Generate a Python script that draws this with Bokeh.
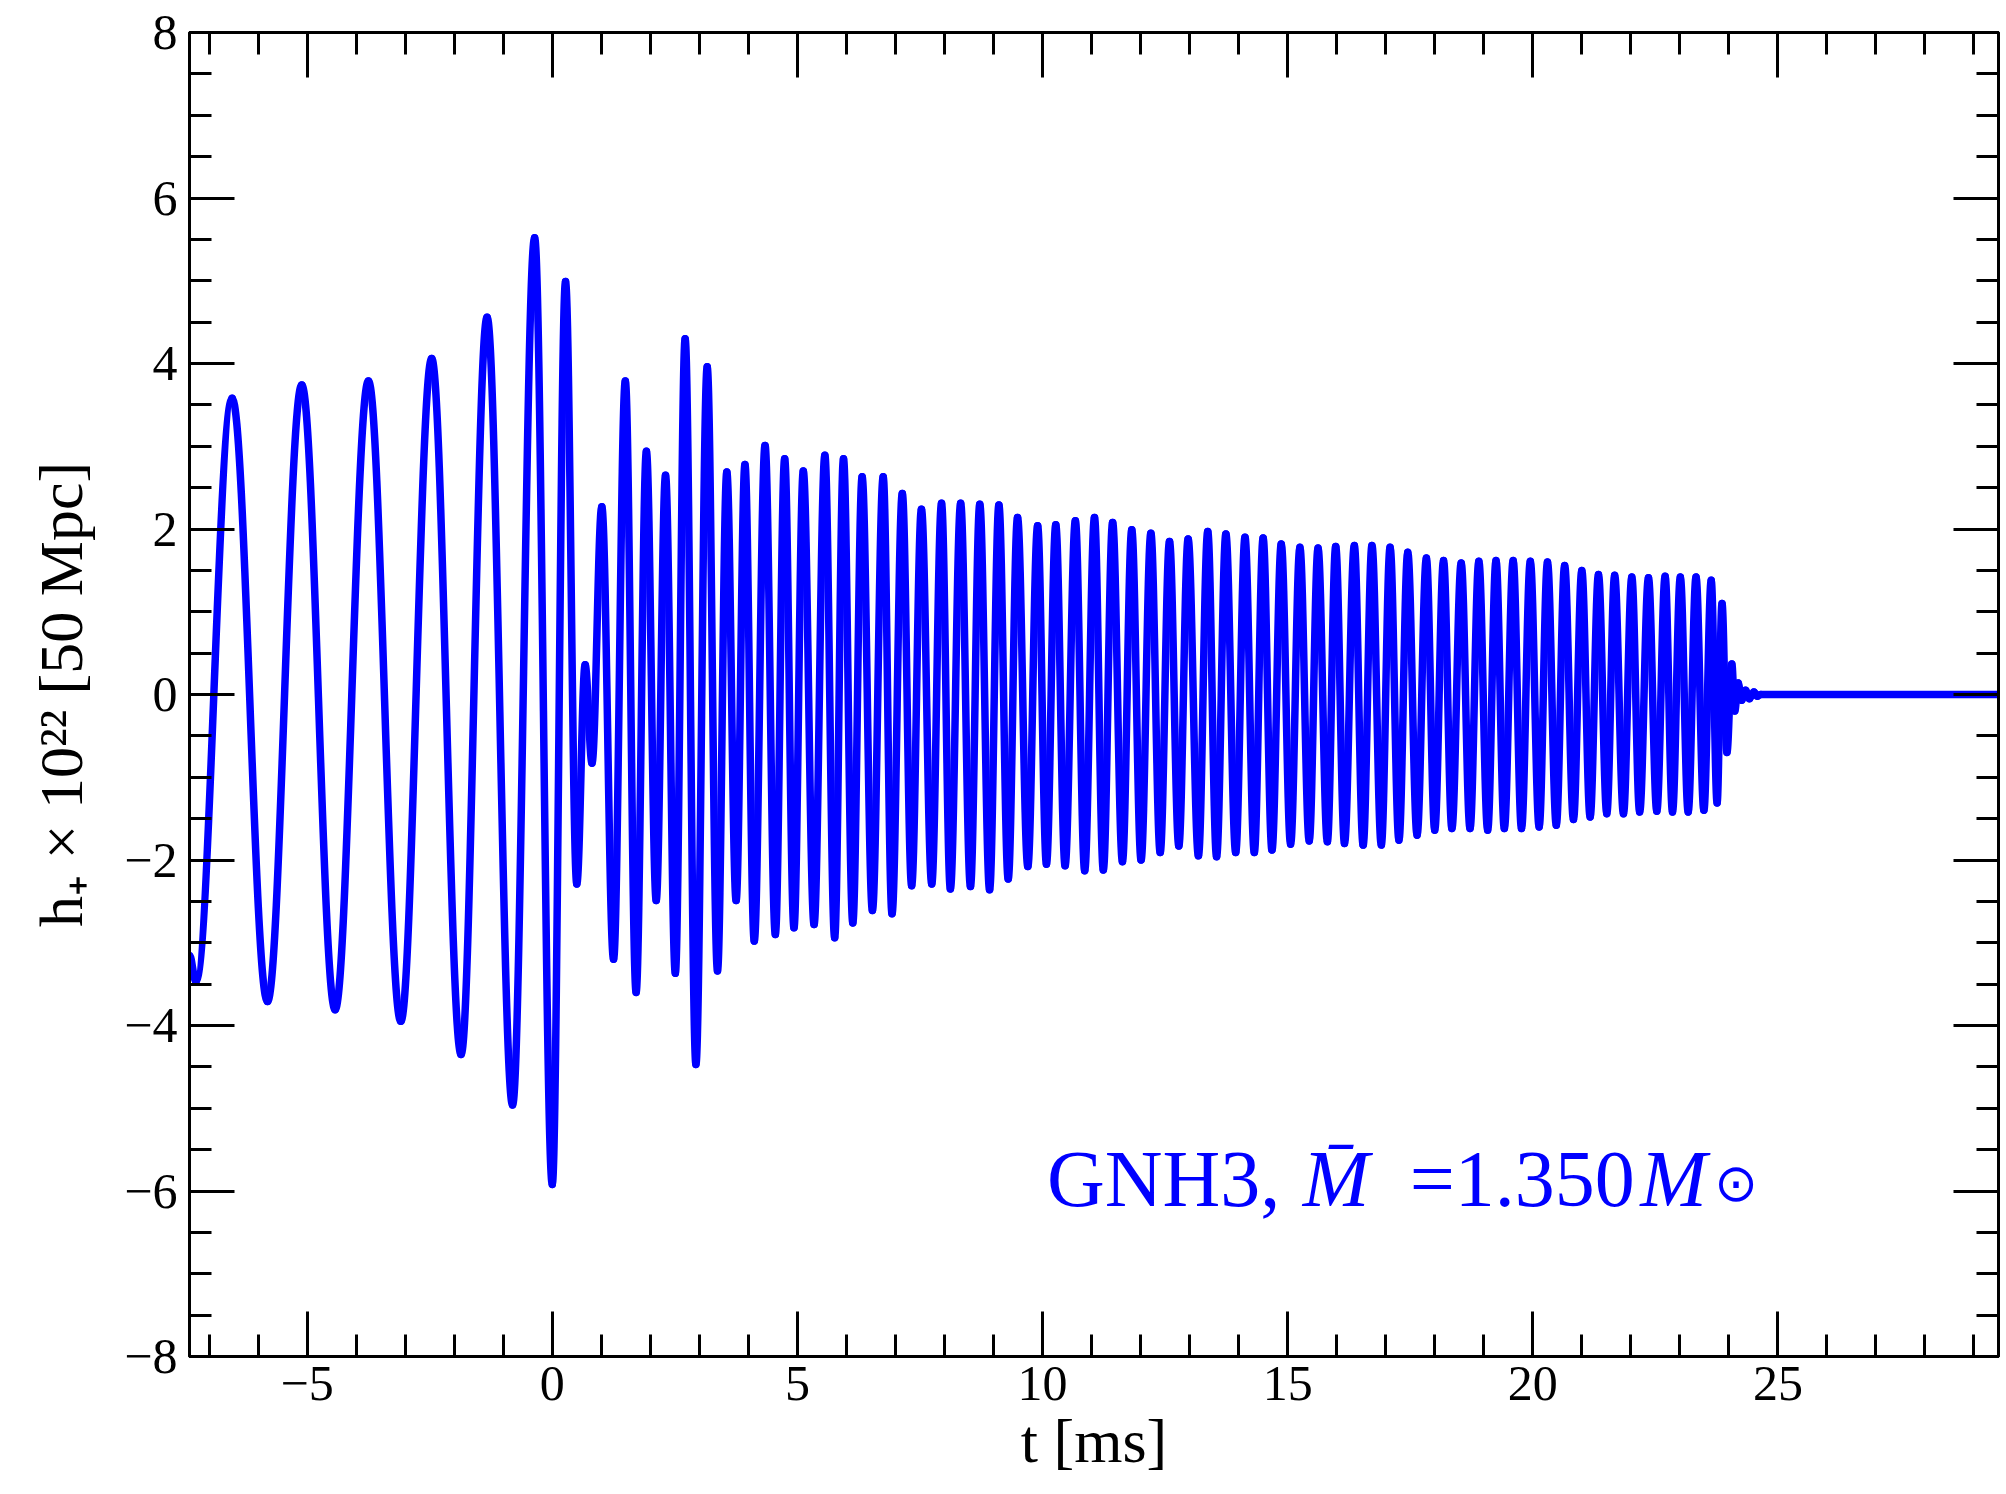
import numpy as np
from bokeh.plotting import figure
from bokeh.models import (Range1d, LinearAxis, SingleIntervalTicker, Label,
                          CustomLabelingPolicy)
from bokeh.embed import file_html
from bokeh.resources import INLINE

# Extrema (peaks / troughs) of h_+ x 1e22, t in ms
t_ext = [-7.40, -7.27, -6.53, -5.81, -5.11, -4.43, -3.75, -3.09, -2.46, -1.86,
         -1.33, -0.81, -0.36, 0.00, 0.27, 0.50, 0.67, 0.81, 1.01, 1.25,
         1.49, 1.71, 1.92, 2.12, 2.31, 2.51, 2.71, 2.93, 3.16, 3.37,
         3.56, 3.75, 3.93, 4.12, 4.34, 4.55, 4.74, 4.93, 5.12, 5.34,
         5.56, 5.76, 5.94, 6.13, 6.32, 6.53, 6.75, 6.93, 7.14, 7.33,
         7.53, 7.74, 7.94, 8.12, 8.33, 8.53, 8.72, 8.92, 9.11, 9.30,
         9.49, 9.70, 9.90, 10.08, 10.27, 10.46, 10.67, 10.86, 11.06, 11.24,
         11.43, 11.63, 11.82, 12.01, 12.21, 12.40, 12.59, 12.78, 12.97, 13.18,
         13.37, 13.55, 13.74, 13.94, 14.13, 14.32, 14.50, 14.68, 14.87, 15.06,
         15.25, 15.44, 15.62, 15.81, 15.98, 16.16, 16.36, 16.54, 16.72, 16.91,
         17.09, 17.27, 17.45, 17.64, 17.83, 18.00, 18.18, 18.35, 18.54, 18.72,
         18.90, 19.08, 19.25, 19.42, 19.60, 19.77, 19.95, 20.13, 20.30, 20.48,
         20.65, 20.83, 21.00, 21.17, 21.34, 21.51, 21.67, 21.85, 22.02, 22.18,
         22.36, 22.53, 22.70, 22.85, 23.01, 23.17, 23.33, 23.49, 23.64, 23.76,
         23.86, 23.96, 24.06, 24.12, 24.19, 24.26, 24.34, 24.42, 24.51, 24.58,
         24.65, 29.60]
h_ext = [-3.15, -3.47, 3.58, -3.71, 3.74, -3.81, 3.79, -3.95, 4.06, -4.35,
         4.56, -4.96, 5.52, -5.92, 4.99, -2.29, 0.36, -0.83, 2.27, -3.20,
         3.79, -3.60, 2.94, -2.49, 2.65, -3.37, 4.30, -4.47, 3.96, -3.34,
         2.69, -2.49, 2.78, -2.98, 3.01, -2.90, 2.85, -2.82, 2.70, -2.78,
         2.89, -2.94, 2.85, -2.76, 2.63, -2.61, 2.63, -2.65, 2.43, -2.31,
         2.24, -2.29, 2.31, -2.35, 2.31, -2.32, 2.30, -2.36, 2.29, -2.23,
         2.14, -2.08, 2.04, -2.05, 2.05, -2.07, 2.10, -2.13, 2.14, -2.12,
         2.08, -2.02, 1.99, -2.00, 1.95, -1.91, 1.85, -1.83, 1.88, -1.95,
         1.97, -1.96, 1.94, -1.91, 1.90, -1.91, 1.89, -1.88, 1.82, -1.81,
         1.78, -1.77, 1.77, -1.78, 1.79, -1.80, 1.80, -1.82, 1.80, -1.82,
         1.78, -1.76, 1.72, -1.70, 1.65, -1.64, 1.62, -1.62, 1.59, -1.62,
         1.61, -1.64, 1.62, -1.62, 1.62, -1.62, 1.61, -1.60, 1.60, -1.58,
         1.56, -1.51, 1.50, -1.48, 1.45, -1.44, 1.44, -1.44, 1.42, -1.42,
         1.41, -1.41, 1.43, -1.42, 1.42, -1.42, 1.42, -1.40, 1.38, -1.31,
         1.10, -0.70, 0.37, -0.20, 0.14, -0.07, 0.05, -0.05, 0.03, -0.02,
         0.00, 0.00]

x_ticks = [-5, 0, 5, 10, 15, 20, 25]
x_tick_labels = ["\u22125", "0", "5", "10", "15", "20", "25"]
y_ticks = [-8, -6, -4, -2, 0, 2, 4, 6, 8]
y_tick_labels = ["\u22128", "\u22126", "\u22124", "\u22122", "0", "2", "4", "6", "8"]

BLUE = "#0000ff"
SERIF = "Liberation Serif"

p = figure(width=2002, height=1486, output_backend="svg", toolbar_location=None,
           x_range=Range1d(-7.4, 29.5), y_range=Range1d(-8, 8),
           min_border_left=189, min_border_top=32, min_border_right=2,
           min_border_bottom=130)
p.grid.visible = False
p.outline_line_color = "black"
p.outline_line_width = 3
p.background_fill_color = "white"
p.border_fill_color = "white"

# waveform: smooth cubic segments between successive extrema (horizontal tangents)
t = np.array(t_ext)
h = np.array(h_ext)
k = 0.364
dt = t[1:] - t[:-1]
p.bezier(x0=t[:-1], y0=h[:-1], x1=t[1:], y1=h[1:],
         cx0=t[:-1] + k * dt, cy0=h[:-1], cx1=t[1:] - k * dt, cy1=h[1:],
         line_color=BLUE, line_width=7.5, line_cap="round")

hide_labels = CustomLabelingPolicy(code="""
const ids = Array.from(indices);
for (const i of ids) {
  if (typeof indices.unset === "function") { indices.unset(i); } else { indices.set(i, false); }
}
return indices;
""")


def style_axis(ax, interval, minor, labels, show, standoff=10):
    ax.ticker = SingleIntervalTicker(interval=interval, num_minor_ticks=minor)
    ax.axis_line_width = 3
    ax.axis_line_color = "black"
    ax.major_tick_in = 45
    ax.major_tick_out = 0
    ax.minor_tick_in = 22
    ax.minor_tick_out = 0
    ax.major_tick_line_width = 3
    ax.minor_tick_line_width = 3
    ax.major_tick_line_color = "black"
    ax.minor_tick_line_color = "black"
    if show:
        ax.major_label_text_font = SERIF
        ax.major_label_text_font_size = "50px"
        ax.major_label_text_color = "black"
        ax.major_label_standoff = standoff
        ax.major_label_overrides = labels
    else:
        ax.major_label_text_font_size = "1px"
        ax.major_label_standoff = 0
        ax.major_label_policy = hide_labels


xb = p.below[0]
yl = p.left[0]
style_axis(xb, 5, 5, dict(zip(x_ticks, x_tick_labels)), True, 10)
style_axis(yl, 2, 4, dict(zip(y_ticks, y_tick_labels)), True, 12)
top = LinearAxis()
right = LinearAxis()
style_axis(top, 5, 5, {}, False)
style_axis(right, 2, 4, {}, False)
p.add_layout(top, "above")
p.add_layout(right, "right")

xb.axis_label = "t [ms]"
yl.axis_label = "h\u208a \u00d7 10\u00b2\u00b2 [50 Mpc]"
for ax, sd in ((xb, 4), (yl, 26)):
    ax.axis_label_text_font = SERIF
    ax.axis_label_text_font_size = "62px"
    ax.axis_label_text_font_style = "normal"
    ax.axis_label_text_color = "black"
    ax.axis_label_standoff = sd

# annotation pieces
ann = [
    (10.09, "GNH3,", "normal", "80px", SERIF, -5.86, "alphabetic"),
    (15.31, "M\u0304", "italic", "80px", SERIF, -5.86, "alphabetic"),
    (17.49, "=1.350", "normal", "80px", SERIF, -5.86, "alphabetic"),
    (22.19, "M", "italic", "80px", SERIF, -5.86, "alphabetic"),
    (23.70, "\u2299", "normal", "52px", "DejaVu Sans", -5.90, "middle"),
]
for x, txt, style, size, font, y, base in ann:
    p.add_layout(Label(x=x, y=y, text=txt, text_font=font, text_font_size=size,
                       text_font_style=style, text_color=BLUE, text_align="left",
                       text_baseline=base))

open("out.html", "w").write(file_html(p, INLINE))
